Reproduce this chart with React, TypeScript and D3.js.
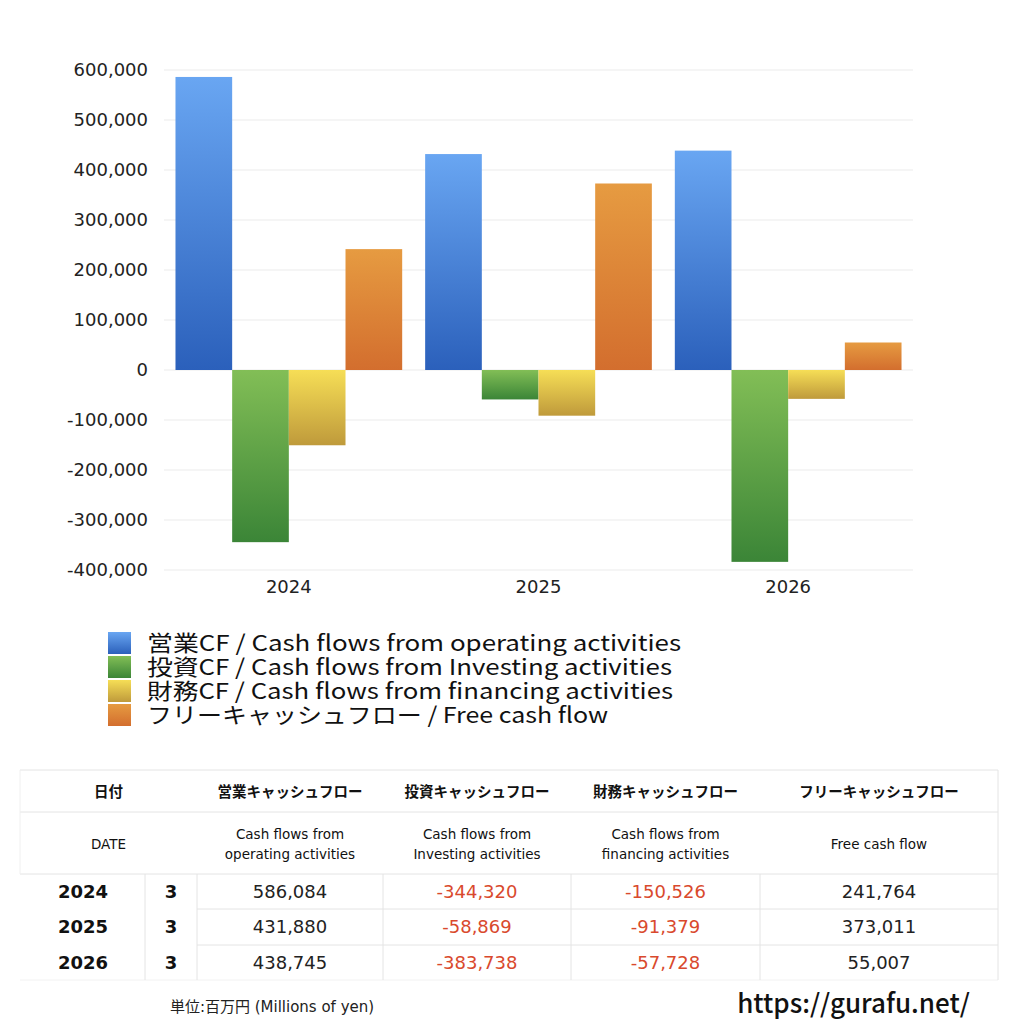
import React, { useEffect, useRef } from "react";
import * as d3 from "d3";

const years = ["2024", "2025", "2026"];
const months = ["3", "3", "3"];
const operating = [586084, 431880, 438745];
const investing = [-344320, -58869, -383738];
const financing = [-150526, -91379, -57728];
const freeCash = [241764, 373011, 55007];
const yTicks = [-400000, -300000, -200000, -100000, 0, 100000, 200000, 300000, 400000, 500000, 600000];

const seriesKeys = ["op", "inv", "fin", "free"];
const legendLabels = [
  "営業CF / Cash flows from operating activities",
  "投資CF / Cash flows from Investing activities",
  "財務CF / Cash flows from financing activities",
  "フリーキャッシュフロー / Free cash flow",
];
const legendWidths = [534, 525, 526, 461];
const headerJa = ["日付", "営業キャッシュフロー", "投資キャッシュフロー", "財務キャッシュフロー", "フリーキャッシュフロー"];
const headerEn = [
  ["DATE"],
  ["Cash flows from", "operating activities"],
  ["Cash flows from", "Investing activities"],
  ["Cash flows from", "financing activities"],
  ["Free cash flow"],
];

const JP = "'Noto Sans CJK JP', 'Noto Sans', sans-serif";
const LATIN = "'DejaVu Sans', 'Noto Sans CJK JP', sans-serif";

const gradients: Record<string, [string, string]> = {
  op: ["#69a6f2", "#2b60bb"],
  inv: ["#82be56", "#3b8537"],
  fin: ["#f6de56", "#bf9a3b"],
  free: ["#e69b41", "#d36e2e"],
};

const fmt = (v: number) => d3.format(",")(v).replace("\u2212", "-");

export default function App() {
  const ref = useRef<SVGSVGElement>(null);

  useEffect(() => {
    const svg = d3.select(ref.current);
    svg.selectAll("*").remove();

    const defs = svg.append("defs");
    seriesKeys.forEach((k) => {
      const g = defs
        .append("linearGradient")
        .attr("id", `grad-${k}`)
        .attr("x1", 0)
        .attr("y1", 0)
        .attr("x2", 0)
        .attr("y2", 1);
      g.append("stop").attr("offset", "0%").attr("stop-color", gradients[k][0]);
      g.append("stop").attr("offset", "100%").attr("stop-color", gradients[k][1]);
    });

    const left = 164;
    const right = 913;
    const top = 70;
    const bottom = 570;

    const y = d3.scaleLinear().domain([-400000, 600000]).range([bottom, top]);
    const x0 = d3.scaleBand().domain(years).range([left, right]).paddingInner(0.092).paddingOuter(0.046);
    const x1 = d3.scaleBand().domain(seriesKeys).range([0, x0.bandwidth()]);

    // grid
    svg
      .append("g")
      .selectAll("line")
      .data(yTicks)
      .join("line")
      .attr("x1", left)
      .attr("x2", right)
      .attr("y1", (d) => y(d))
      .attr("y2", (d) => y(d))
      .attr("stroke", "#ebebeb")
      .attr("stroke-width", 1);

    svg
      .append("g")
      .selectAll("text")
      .data(yTicks)
      .join("text")
      .attr("x", 148)
      .attr("y", (d) => y(d))
      .attr("dy", "0.36em")
      .attr("text-anchor", "end")
      .attr("font-family", LATIN)
      .attr("font-size", 18)
      .attr("fill", "#222")
      .text((d) => fmt(d));

    svg
      .append("g")
      .selectAll("text")
      .data(years)
      .join("text")
      .attr("x", (d) => (x0(d) as number) + x0.bandwidth() / 2)
      .attr("y", 593)
      .attr("text-anchor", "middle")
      .attr("font-family", LATIN)
      .attr("font-size", 18)
      .attr("fill", "#222")
      .text((d) => d);

    const rows = years.map((yr, i) => ({
      yr,
      vals: [
        { k: "op", v: operating[i] },
        { k: "inv", v: investing[i] },
        { k: "fin", v: financing[i] },
        { k: "free", v: freeCash[i] },
      ],
    }));

    svg
      .append("g")
      .selectAll("g")
      .data(rows)
      .join("g")
      .attr("transform", (d) => `translate(${x0(d.yr)},0)`)
      .selectAll("rect")
      .data((d) => d.vals)
      .join("rect")
      .attr("x", (d) => x1(d.k) as number)
      .attr("width", x1.bandwidth())
      .attr("y", (d) => y(Math.max(0, d.v)))
      .attr("height", (d) => Math.abs(y(d.v) - y(0)))
      .attr("fill", (d) => `url(#grad-${d.k})`);

    // legend
    const legend = svg.append("g");
    legendLabels.forEach((label, i) => {
      const cy = 643 + i * 24;
      legend
        .append("rect")
        .attr("x", 108)
        .attr("y", cy - 11)
        .attr("width", 23)
        .attr("height", 22)
        .attr("fill", `url(#grad-${seriesKeys[i]})`);
      legend
        .append("text")
        .attr("x", 147)
        .attr("y", cy)
        .attr("dy", "0.36em")
        .attr("font-family", JP)
        .attr("font-size", 22)
        .attr("textLength", legendWidths[i])
        .attr("lengthAdjust", "spacingAndGlyphs")
        .attr("fill", "#111")
        .text(label);
    });

    // table
    const colX = [20, 145, 197, 383, 571, 760, 998];
    const tTop = 770;
    const h1 = 812;
    const h2 = 874;
    const rowH = [874, 909, 945, 980];
    const lineColor = "#e4e4e4";
    const table = svg.append("g");

    [tTop, h1, h2].forEach((yy) =>
      table.append("line").attr("x1", colX[0]).attr("x2", colX[6]).attr("y1", yy).attr("y2", yy).attr("stroke", lineColor)
    );
    [rowH[1], rowH[2]].forEach((yy) =>
      table.append("line").attr("x1", colX[2]).attr("x2", colX[6]).attr("y1", yy).attr("y2", yy).attr("stroke", lineColor)
    );
    table.append("line").attr("x1", colX[0]).attr("x2", colX[6]).attr("y1", rowH[3]).attr("y2", rowH[3]).attr("stroke", "#f2f2f2");
    table.append("line").attr("x1", colX[0]).attr("x2", colX[0]).attr("y1", tTop).attr("y2", h2).attr("stroke", "#f0f0f0");
    table.append("line").attr("x1", colX[6]).attr("x2", colX[6]).attr("y1", tTop).attr("y2", rowH[3]).attr("stroke", lineColor);
    colX.slice(1, 6).forEach((xx) =>
      table.append("line").attr("x1", xx).attr("x2", xx).attr("y1", h2).attr("y2", rowH[3]).attr("stroke", lineColor)
    );

    const headCenters = [(colX[0] + colX[2]) / 2, ...[2, 3, 4, 5].map((c) => (colX[c] + colX[c + 1]) / 2)];
    headerJa.forEach((t, i) => {
      table
        .append("text")
        .attr("x", headCenters[i])
        .attr("y", 792)
        .attr("dy", "0.36em")
        .attr("text-anchor", "middle")
        .attr("font-family", JP)
        .attr("font-size", 14.5)
        .attr("font-weight", 700)
        .attr("fill", "#111")
        .text(t);
    });
    headerEn.forEach((lines, i) => {
      lines.forEach((t, j) => {
        const yy = lines.length === 1 ? 844 : 834 + j * 20;
        table
          .append("text")
          .attr("x", headCenters[i])
          .attr("y", yy)
          .attr("dy", "0.36em")
          .attr("text-anchor", "middle")
          .attr("font-family", LATIN)
          .attr("font-size", 13.5)
          .attr("fill", "#111")
          .text(t);
      });
    });

    const cols = [operating, investing, financing, freeCash];
    years.forEach((yr, i) => {
      const cy = (rowH[i] + rowH[i + 1]) / 2;
      table
        .append("text")
        .attr("x", 83)
        .attr("y", cy)
        .attr("dy", "0.36em")
        .attr("text-anchor", "middle")
        .attr("font-family", LATIN)
        .attr("font-size", 18)
        .attr("font-weight", 700)
        .attr("fill", "#111")
        .text(yr);
      table
        .append("text")
        .attr("x", (colX[1] + colX[2]) / 2)
        .attr("y", cy)
        .attr("dy", "0.36em")
        .attr("text-anchor", "middle")
        .attr("font-family", LATIN)
        .attr("font-size", 18)
        .attr("font-weight", 700)
        .attr("fill", "#111")
        .text(months[i]);
      cols.forEach((col, c) => {
        const v = col[i];
        table
          .append("text")
          .attr("x", (colX[c + 2] + colX[c + 3]) / 2)
          .attr("y", cy)
          .attr("dy", "0.36em")
          .attr("text-anchor", "middle")
          .attr("font-family", LATIN)
          .attr("font-size", 18)
          .attr("fill", v < 0 ? "#d9492d" : "#222")
          .text(fmt(v));
      });
    });

    svg
      .append("text")
      .attr("x", 272)
      .attr("y", 1007)
      .attr("dy", "0.36em")
      .attr("text-anchor", "middle")
      .attr("font-family", LATIN)
      .attr("font-size", 15)
      .attr("fill", "#222")
      .text("単位:百万円 (Millions of yen)");

    svg
      .append("text")
      .attr("x", 970)
      .attr("y", 1004)
      .attr("dy", "0.36em")
      .attr("text-anchor", "end")
      .attr("font-family", JP)
      .attr("font-size", 26)
      .attr("font-weight", 500)
      .attr("fill", "#111")
      .text("https://gurafu.net/");
  }, []);

  return (
    <svg
      ref={ref}
      width={1024}
      height={1024}
      style={{ position: "absolute", left: 0, top: 0, background: "#fff" }}
    />
  );
}
